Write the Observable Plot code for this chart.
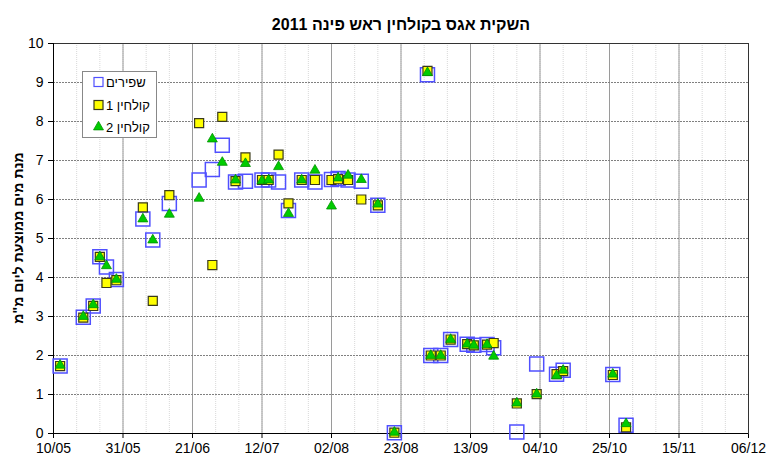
<!DOCTYPE html>
<html>
<head>
<meta charset="utf-8">
<script src="https://cdn.jsdelivr.net/npm/d3@7"></script>
<script src="https://cdn.jsdelivr.net/npm/@observablehq/plot@0.6"></script>
<style>
  html, body { margin: 0; padding: 0; background: #fff; }
  svg { display: block; }
</style>
</head>
<body>
<div id="chart"></div>
<script>
const title = "השקית אגס בקולחין ראש פינה 2011";
const yLabel = "מנת מים ממוצעת ליום מ\"מ";
const seriesNames = ["שפירים", "קולחין 1", "קולחין 2"];

const xTickLabels = ["10/05","31/05","21/06","12/07","02/08","23/08","13/09","04/10","25/10","15/11","06/12"];
const yTicks = [0,1,2,3,4,5,6,7,8,9,10];

const dates = [
  "2011-05-12","2011-05-19","2011-05-22","2011-05-24","2011-05-26","2011-05-29",
  "2011-06-06","2011-06-09","2011-06-14","2011-06-23","2011-06-27","2011-06-30",
  "2011-07-04","2011-07-07","2011-07-12","2011-07-14","2011-07-17","2011-07-20",
  "2011-07-24","2011-07-28","2011-08-02","2011-08-04","2011-08-07","2011-08-11",
  "2011-08-16","2011-08-21","2011-08-31","2011-09-01","2011-09-04","2011-09-07",
  "2011-09-12","2011-09-14","2011-09-18","2011-09-20","2011-09-27","2011-10-03",
  "2011-10-09","2011-10-11","2011-10-26","2011-10-30"
];
const shapirim = [
  1.73, 2.98, 3.27, 4.53, 4.27, 3.95,
  5.50, 4.96, 5.90, 6.50, 6.77, 7.39,
  6.45, 6.47, 6.50, 6.50, 6.45, 5.72,
  6.50, 6.45, 6.51, 6.54, 6.50, 6.47,
  5.85, 0.02, 9.20, 2.00, 2.00, 2.41,
  2.29, 2.26, 2.28, 2.20, 0.04, 1.78,
  1.52, 1.62, 1.51, 0.21
];
const kolchin1 = [
  1.73, 2.97, 3.27, 4.53, 3.86, 3.93,
  5.80, 3.40, 6.11, 7.96, 4.32, 8.12,
  6.47, 7.08, 6.50, 6.50, 7.15, 5.90,
  6.50, 6.50, 6.50, 6.52, 6.50, 6.00,
  5.85, 0.02, 9.30, 2.00, 2.00, 2.41,
  2.29, 2.26, 2.28, 2.32, 0.77, 1.01,
  1.52, 1.60, 1.50, 0.16
];
const kolchin2 = [
  1.75, 3.00, 3.30, 4.53, 4.30, 3.95,
  5.50, 4.96, 5.62, 6.03, 7.55, 6.95,
  6.50, 6.92, 6.48, 6.50, 6.84, 5.64,
  6.50, 6.75, 5.83, 6.55, 6.62, 6.51,
  5.88, 0.03, 9.25, 2.00, 2.00, 2.41,
  2.29, 2.26, 2.28, 1.98, 0.78, 1.01,
  1.48, 1.62, 1.52, 0.25
];

const parseTick = s => { const [d, m] = s.split("/").map(Number); return new Date(Date.UTC(2011, m - 1, d)); };
const tickDates = xTickLabels.map(parseTick);
const minorDates = d3.range(0, 211, 7).map(n => d3.utcDay.offset(tickDates[0], n));
const rows = dates.map((d, i) => ({date: new Date(d + "T00:00:00Z"), s: shapirim[i], k1: kolchin1[i], k2: kolchin2[i]}));

const chart = Plot.plot({
  width: 766,
  height: 457,
  marginTop: 43,
  marginLeft: 53,
  marginRight: 18,
  marginBottom: 24,
  style: {fontFamily: "'Liberation Sans', Arial, sans-serif", fontSize: "14px", color: "#000", background: "#fff"},
  x: {type: "utc", domain: [tickDates[0], tickDates[tickDates.length - 1]], ticks: tickDates, tickFormat: d3.utcFormat("%d/%m"), tickSize: 5, tickPadding: 5, label: null},
  y: {domain: [0, 10], ticks: yTicks, tickSize: 5, tickPadding: 5, label: null},
  marks: [
    Plot.ruleX(minorDates, {stroke: "#d8d8d8", strokeWidth: 1, strokeDasharray: "1,1"}),
    Plot.ruleX(tickDates, {stroke: "#9a9a9a", strokeWidth: 1}),
    Plot.ruleY(yTicks.slice(1, -1), {stroke: "#808080", strokeWidth: 1, strokeDasharray: "2,1"}),
    Plot.frame({stroke: "#333"}),
    Plot.ruleY([0], {stroke: "#000"}),
    Plot.ruleX([tickDates[0]], {stroke: "#000"}),
    Plot.dot(rows, {x: "date", y: "s", symbol: "square", r: 7.9, fill: "none", stroke: "#5050ff", strokeWidth: 1.5}),
    Plot.dot(rows, {x: "date", y: "k1", symbol: "square", r: 5.1, fill: "#ffff00", stroke: "#3a3a1a", strokeWidth: 1.2}),
    Plot.dot(rows, {x: "date", y: "k2", symbol: "triangle", r: 3.7, fill: "#00cc00", stroke: "#009000", strokeWidth: 0.8}),
    Plot.text([title], {frameAnchor: "top", dy: -25, fontWeight: "bold", fontSize: 16})
  ]
});

const svg = d3.select(chart);
// y-axis title
svg.append("text")
  .attr("transform", "translate(18,238) rotate(-90)")
  .attr("text-anchor", "middle")
  .attr("dy", "0.35em")
  .attr("font-weight", "bold")
  .attr("font-size", 14)
  .attr("direction", "rtl")
  .attr("unicode-bidi", "embed")
  .text(yLabel);

// legend
const lg = svg.append("g").attr("font-size", 13);
lg.append("rect").attr("x", 82.5).attr("y", 71.5).attr("width", 74).attr("height", 66)
  .attr("fill", "#fff").attr("stroke", "#888").attr("stroke-width", 1);
const ly = [82, 105, 127];
lg.append("rect").attr("x", 94).attr("y", ly[0] - 4.5).attr("width", 9).attr("height", 9)
  .attr("fill", "none").attr("stroke", "#5050ff").attr("stroke-width", 1.2);
lg.append("rect").attr("x", 94).attr("y", ly[1] - 4.5).attr("width", 9).attr("height", 9)
  .attr("fill", "#ffff00").attr("stroke", "#3a3a1a").attr("stroke-width", 1.2);
lg.append("path").attr("transform", `translate(98.5,${ly[2]})`).attr("d", d3.symbol(d3.symbolTriangle, 43)())
  .attr("fill", "#00cc00").attr("stroke", "#009000").attr("stroke-width", 0.8);
seriesNames.forEach((n, i) => {
  lg.append("text").attr("x", 106).attr("y", ly[i]).attr("dy", "0.35em").attr("text-anchor", "start").text(n);
});

document.getElementById("chart").appendChild(chart);
</script>
</body>
</html>
